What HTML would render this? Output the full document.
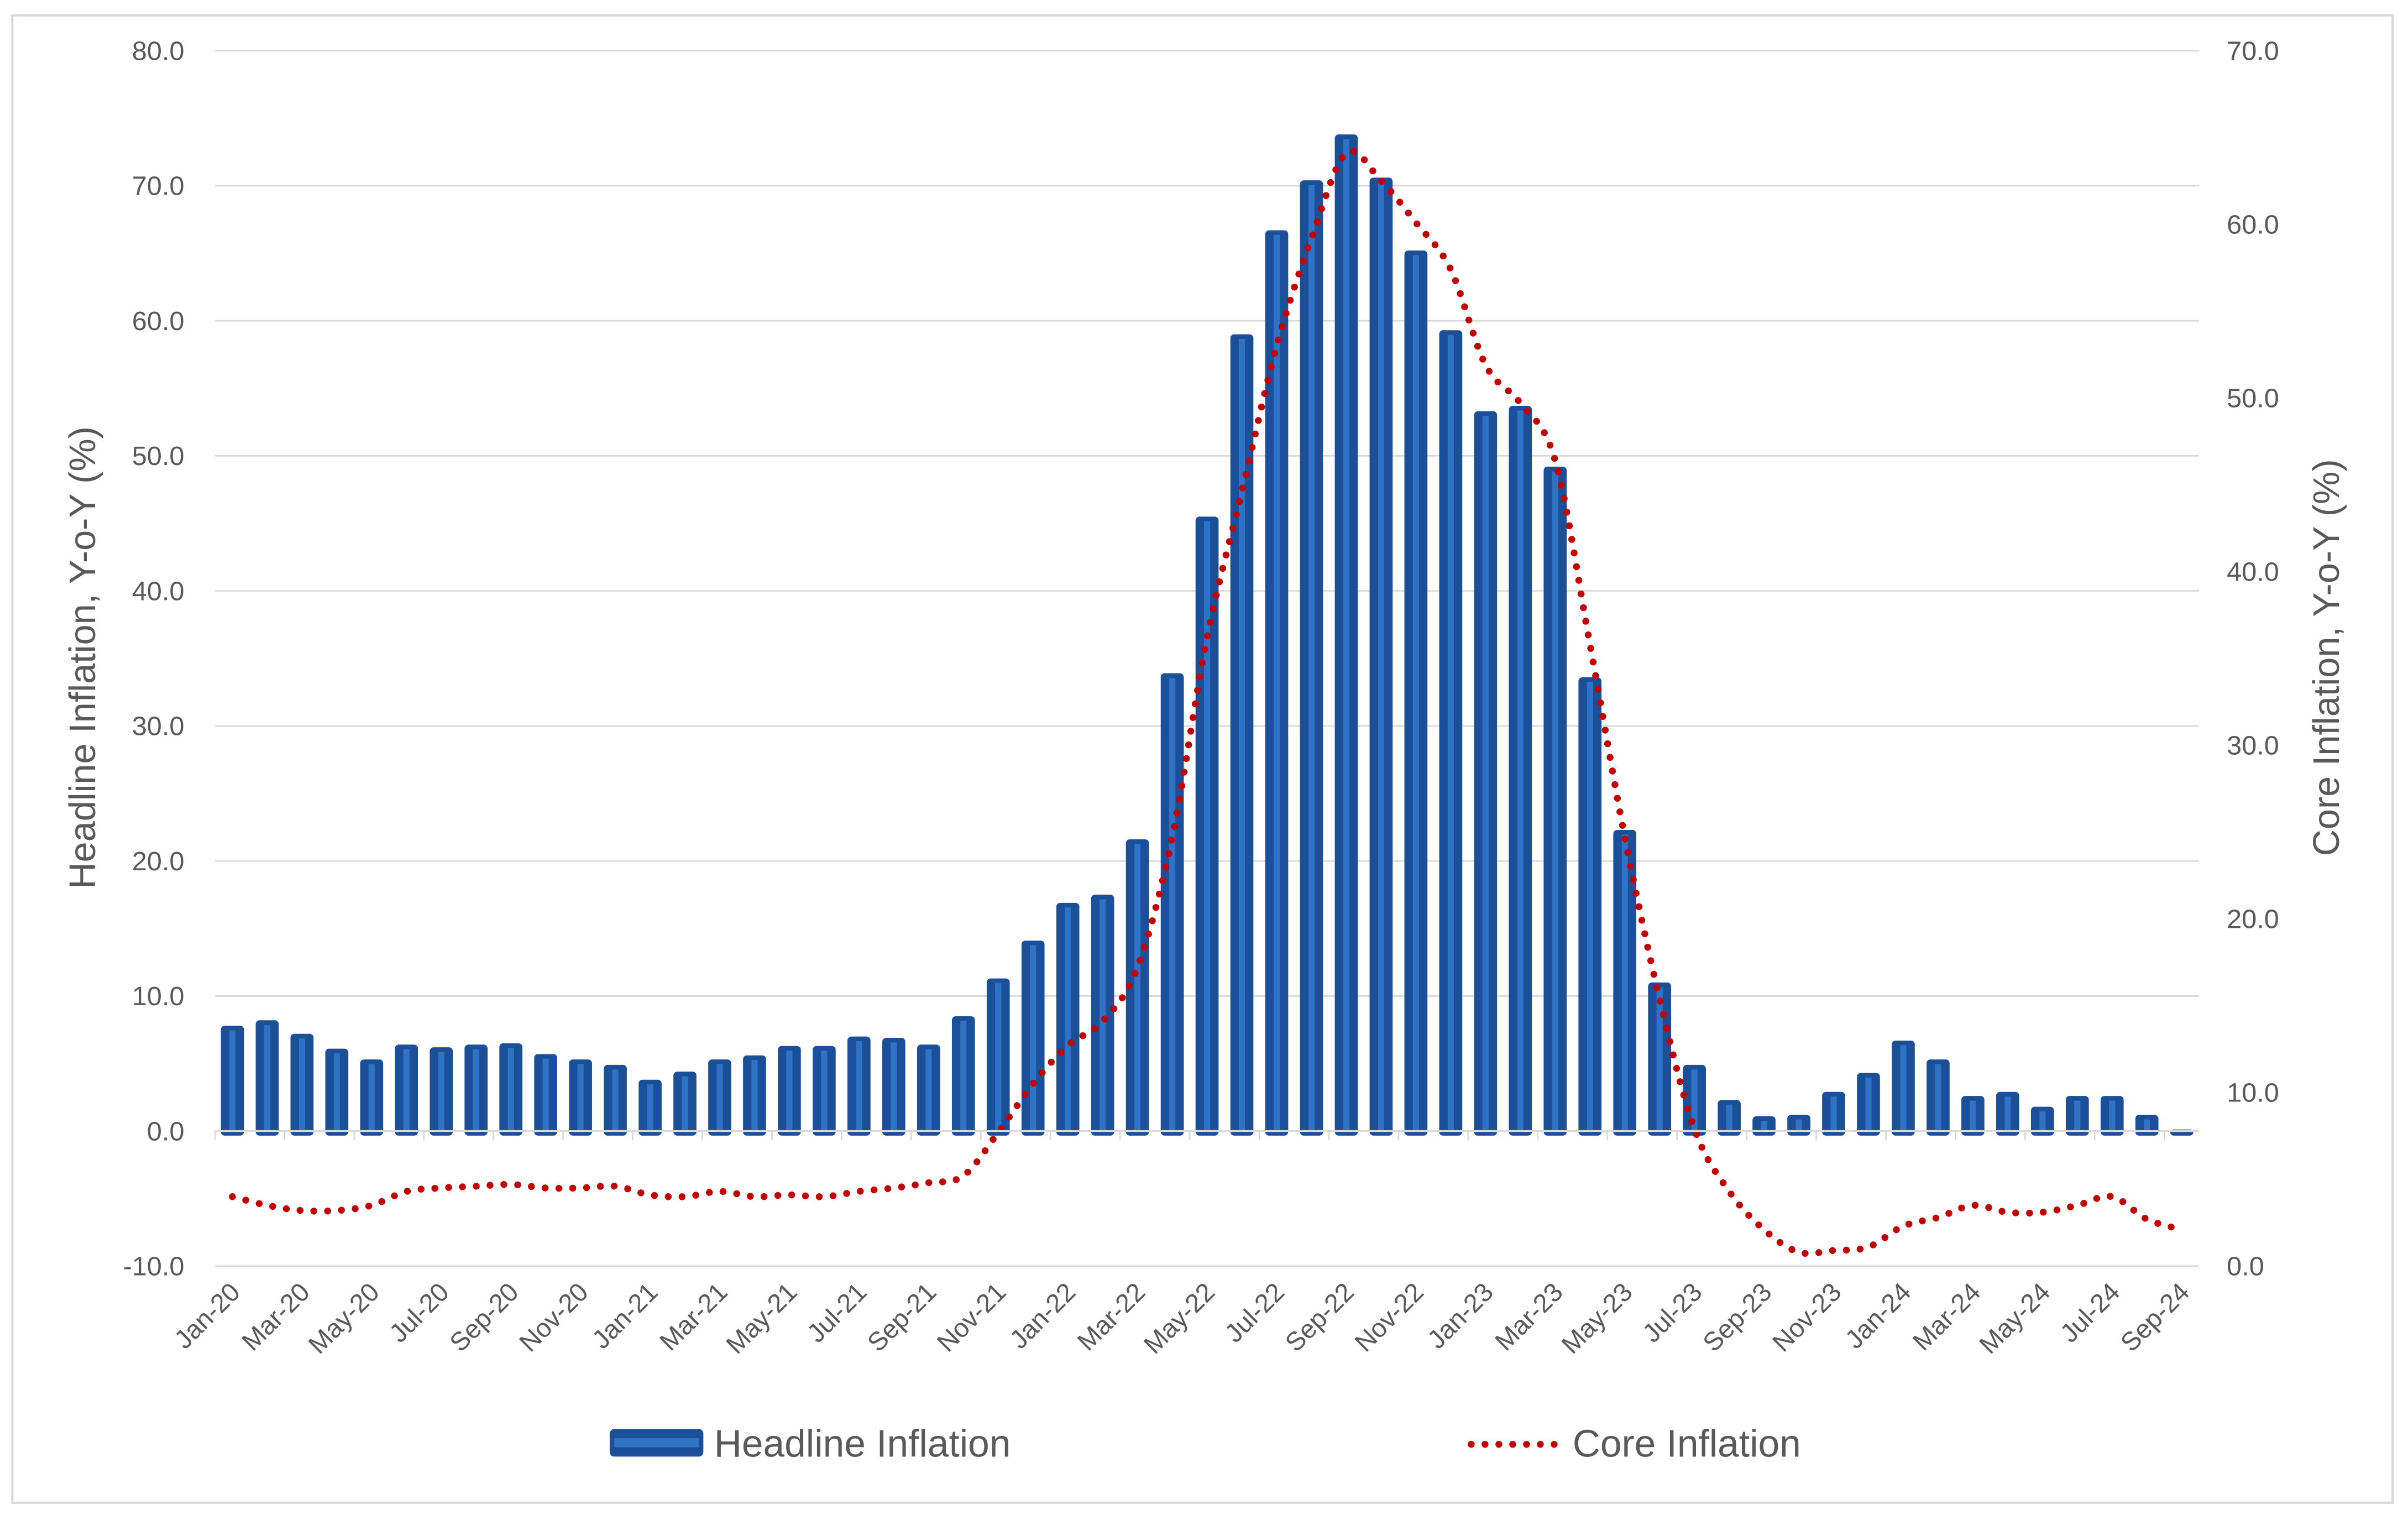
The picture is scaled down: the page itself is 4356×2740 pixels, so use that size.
<!DOCTYPE html>
<html><head><meta charset="utf-8"><style>
html,body{margin:0;padding:0;background:#fff;}
svg{display:block;font-family:"Liberation Sans",sans-serif;}
</style></head><body>
<svg id="chart" width="4356" height="2740" viewBox="0 0 1568 986" preserveAspectRatio="none" xmlns="http://www.w3.org/2000/svg">
<rect x="8" y="10" width="1550" height="968" fill="#fff" stroke="#d9d9d9" stroke-width="1.5"/>
<g id="grid"></g><g id="bars"></g><g id="line"></g><g id="axes"></g>
<text transform="translate(62,428) rotate(-90)" text-anchor="middle" font-size="24" fill="#595959">Headline Inflation, Y-o-Y (%)</text>
<text transform="translate(1523,428) rotate(-90)" text-anchor="middle" font-size="24" fill="#595959">Core Inflation, Y-o-Y (%)</text>
<g>
<rect x="397" y="930" width="61" height="18" rx="3" fill="#1b4f98"/>
<rect x="400" y="936" width="55" height="6" fill="#2f73c6"/>
<text x="465" y="948" font-size="25" fill="#595959">Headline Inflation</text>
<line x1="958" y1="940" x2="1015" y2="940" stroke="#c00000" stroke-width="4.5" stroke-linecap="round" stroke-dasharray="0 9"/>
<text x="1024" y="948" font-size="25" fill="#595959">Core Inflation</text>
</g>
</svg>
<script>
const months = ["Jan","Feb","Mar","Apr","May","Jun","Jul","Aug","Sep","Oct","Nov","Dec"];
const years = ["20","21","22","23","24"];
const headline = [7.8,8.2,7.2,6.1,5.3,6.4,6.2,6.4,6.5,5.7,5.3,4.9,
 3.8,4.4,5.3,5.6,6.3,6.3,7.0,6.9,6.4,8.5,11.3,14.1,
 16.9,17.5,21.6,33.9,45.5,59.0,66.7,70.4,73.8,70.6,65.2,59.3,
 53.3,53.7,49.2,33.6,22.3,11.0,4.9,2.3,1.1,1.2,2.9,4.3,
 6.7,5.3,2.6,2.9,1.8,2.6,2.6,1.2,-0.4];
const core = [4.0,3.5,3.2,3.2,3.5,4.3,4.5,4.6,4.7,4.5,4.5,4.6,
 4.1,4.0,4.3,4.0,4.1,4.0,4.3,4.5,4.8,5.2,7.7,10.5,
 12.7,14.1,17.2,24.7,36.2,44.6,53.0,59.2,64.1,62.5,60.1,57.4,
 51.9,49.7,46.4,35.8,24.7,15.4,7.9,4.3,2.1,0.8,0.9,1.1,
 2.3,2.8,3.5,3.1,3.1,3.5,4.0,2.7,2.1];
const leftTicks = [-10,0,10,20,30,40,50,60,70,80];
const rightTicks = [0,10,20,30,40,50,60,70];

const NS="http://www.w3.org/2000/svg";
const PL=140, PR=1432, PT=33, PB=824;
const cats=[]; for(let i=0;i<headline.length;i++){cats.push(months[i%12]+"-"+years[Math.floor(i/12)]);}
const n=cats.length, cw=(PR-PL)/n;
const xC=i=>PL+(i+0.5)*cw;
const yL=v=>PB-(v+10)/90*(PB-PT);
const yR=v=>PB-v/70*(PB-PT);
function mk(tag,attrs,parent){const e=document.createElementNS(NS,tag);for(const k in attrs)e.setAttribute(k,attrs[k]);parent.appendChild(e);return e;}
const grid=document.getElementById('grid'),bars=document.getElementById('bars'),line=document.getElementById('line'),axes=document.getElementById('axes');
leftTicks.forEach(v=>{
 if(v!==0){const g=mk('line',{x1:PL,x2:PR,y1:yL(v),y2:yL(v),stroke:'#d9d9d9','stroke-width':1},grid);
 
 }
 const t=mk('text',{x:120,y:yL(v)+6,'text-anchor':'end','font-size':17.5,fill:'#595959'},axes);
 t.textContent=v.toFixed(1);
 
 
});
rightTicks.forEach(v=>{
 const t=mk('text',{x:1450,y:yR(v)+6,'font-size':17.5,fill:'#595959'},axes);
 t.textContent=v.toFixed(1);
 
 
});
const bw=15;
headline.forEach((v,i)=>{
 const y0=yL(0)+3, y1=Math.min(yL(v),yL(0)-1);
 const r=mk('rect',{x:xC(i)-bw/2,y:y1,width:bw,height:y0-y1,rx:2.5,fill:'#1b4f98'},bars);
 
 
 if(y0-y1>8){mk('rect',{x:xC(i)-2,y:y1+3,width:4,height:y0-y1-6,fill:'#2f73c6'},bars);}
});
const z=mk('line',{x1:PL,x2:PR,y1:yL(0),y2:yL(0),stroke:'#d9d9d9','stroke-width':1.2},axes);


for(let i=0;i<=n;i+=2){mk('line',{x1:PL+i*cw,x2:PL+i*cw,y1:yL(0),y2:yL(0)+6,stroke:'#d9d9d9','stroke-width':1},axes);}
for(let i=0;i<n;i+=2){
 const t=mk('text',{transform:`translate(${xC(i)+6},${PB+18}) rotate(-45)`,'text-anchor':'end','font-size':17,fill:'#595959'},axes);
 t.textContent=cats[i];
 
 
}
const pts=core.map((v,i)=>[xC(i),yR(v)]);
let d=`M${pts[0][0]},${pts[0][1]}`;
for(let i=0;i<pts.length-1;i++){
 const p0=pts[Math.max(0,i-1)],p1=pts[i],p2=pts[i+1],p3=pts[Math.min(pts.length-1,i+2)];
 const c1=[p1[0]+(p2[0]-p0[0])/6,p1[1]+(p2[1]-p0[1])/6],c2=[p2[0]-(p3[0]-p1[0])/6,p2[1]-(p3[1]-p1[1])/6];
 d+=` C${c1[0]},${c1[1]} ${c2[0]},${c2[1]} ${p2[0]},${p2[1]}`;
}
const cl=mk('path',{d:d,fill:'none',stroke:'#c00000','stroke-width':4.5,'stroke-linecap':'round','stroke-dasharray':'0 9'},line);


</script>
</body></html>
